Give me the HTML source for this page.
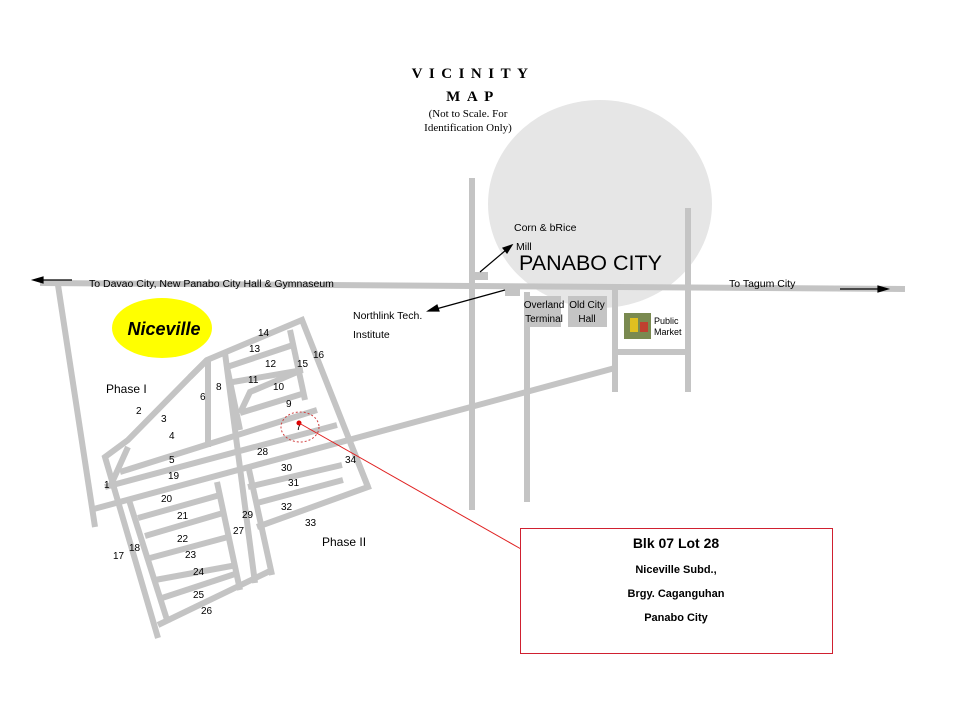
<!DOCTYPE html>
<html><head><meta charset="utf-8"><style>
body{margin:0;background:#fff}
svg{display:block}
text{font-family:"Liberation Sans",sans-serif;font-size:10px;fill:#000}
</style></head><body>
<svg width="960" height="720" viewBox="0 0 960 720">
<rect width="960" height="720" fill="#fff"/>
<ellipse cx="600" cy="204" rx="112" ry="104" fill="#e6e6e6"/>
<g stroke="#c4c4c4" stroke-width="6" fill="none" stroke-linecap="butt">
<line x1="40" y1="283" x2="905" y2="289"/>
<line x1="472" y1="178" x2="472" y2="510"/>
<line x1="527" y1="292" x2="527" y2="502"/>
<line x1="615" y1="288" x2="615" y2="392"/>
<line x1="688" y1="208" x2="688" y2="392"/>
<line x1="615" y1="352" x2="688" y2="352"/>
<line x1="58" y1="285" x2="95" y2="527"/>
<line x1="90" y1="510" x2="615" y2="368"/>
<polyline points="158,638 105,457 128,440 190,377 207,360 302,320 368,487 257,527"/>
<polyline points="110,487 128,447"/>
<line x1="105" y1="487" x2="337" y2="425"/>
<line x1="120" y1="472" x2="317" y2="410"/>
<line x1="208" y1="360" x2="208" y2="447"/>
<line x1="225" y1="353" x2="255" y2="583"/>
<line x1="207" y1="360" x2="190" y2="377"/>
<polyline points="240,413 250,392 302,370"/>
<line x1="227" y1="367" x2="240" y2="430"/>
<line x1="227" y1="367" x2="293" y2="345"/>
<line x1="227" y1="383" x2="303" y2="370"/>
<line x1="240" y1="413" x2="305" y2="393"/>
<line x1="290" y1="330" x2="305" y2="400"/>
<line x1="248" y1="465" x2="272" y2="575"/>
<line x1="248" y1="487" x2="342" y2="465"/>
<line x1="257" y1="503" x2="343" y2="480"/>
<line x1="350" y1="442" x2="368" y2="487"/>
<line x1="128" y1="497" x2="168" y2="623"/>
<line x1="217" y1="482" x2="240" y2="590"/>
<line x1="158" y1="625" x2="272" y2="570"/>
<line x1="138" y1="518" x2="220" y2="495"/>
<line x1="145" y1="536" x2="223" y2="513"/>
<line x1="150" y1="558" x2="228" y2="537"/>
<line x1="155" y1="580" x2="237" y2="565"/>
<line x1="162" y1="598" x2="238" y2="573"/>
</g>
<g fill="#c4c4c4">
<rect x="474" y="272" width="14" height="8"/>
<rect x="505" y="288" width="15" height="8"/>
<rect x="527" y="296" width="34" height="31"/>
<rect x="568" y="296" width="39" height="31"/>
</g>
<g stroke="#000" stroke-width="1.2" fill="#000">
<line x1="40" y1="280" x2="72" y2="280"/><polygon points="33,280 43,277 43,283"/>
<line x1="840" y1="289" x2="880" y2="289"/><polygon points="888,289 878,286 878,292"/>
<line x1="480" y1="272" x2="506" y2="250"/><polygon points="512,245 503,248 507,253"/>
<line x1="505" y1="290" x2="436" y2="309"/><polygon points="428,311 437,305 439,311"/>
</g>
<ellipse cx="162" cy="328" rx="50" ry="30" fill="#ffff00"/>
<text x="164" y="335" text-anchor="middle" style="font-size:18px;font-weight:bold;font-style:italic">Niceville</text>
<text x="473" y="78" text-anchor="middle" style="font-family:'Liberation Serif',serif;font-size:15px;font-weight:bold;letter-spacing:6.5px">VICINITY</text>
<text x="473" y="101" text-anchor="middle" style="font-family:'Liberation Serif',serif;font-size:15px;font-weight:bold;letter-spacing:6.5px">MAP</text>
<text x="468" y="117" text-anchor="middle" style="font-family:'Liberation Serif',serif;font-size:11px">(Not to Scale. For</text>
<text x="468" y="131" text-anchor="middle" style="font-family:'Liberation Serif',serif;font-size:11px">Identification Only)</text>
<text x="89" y="287" style="font-size:10.5px">To Davao City, New Panabo City Hall &amp; Gymnaseum</text>
<text x="729" y="287" style="font-size:10.5px">To Tagum City</text>
<text x="514" y="231" style="font-size:10.5px">Corn &amp; bRice</text>
<text x="516" y="250" style="font-size:10.5px">Mill</text>
<text x="519" y="270" style="font-size:21.5px">PANABO CITY</text>
<text x="353" y="319" style="font-size:10.5px">Northlink Tech.</text>
<text x="353" y="338" style="font-size:10.5px">Institute</text>
<text x="544" y="308" text-anchor="middle">Overland</text>
<text x="544" y="322" text-anchor="middle">Terminal</text>
<text x="587" y="308" text-anchor="middle">Old City</text>
<text x="587" y="322" text-anchor="middle">Hall</text>
<rect x="624" y="313" width="27" height="26" fill="#7a8a50"/>
<rect x="630" y="318" width="8" height="14" fill="#e0c020"/>
<rect x="640" y="322" width="8" height="10" fill="#c04030"/>
<text x="654" y="324" style="font-size:9px">Public</text>
<text x="654" y="335" style="font-size:9px">Market</text>
<text x="106" y="393" style="font-size:12px">Phase I</text>
<text x="322" y="546" style="font-size:12px">Phase II</text>
<g style="font-size:10px">
<text x="258" y="336">14</text><text x="249" y="352">13</text><text x="265" y="367">12</text><text x="313" y="358">16</text>
<text x="297" y="367">15</text><text x="248" y="383">11</text><text x="273" y="390">10</text><text x="286" y="407">9</text>
<text x="216" y="390">8</text><text x="200" y="400">6</text><text x="136" y="414">2</text><text x="161" y="422">3</text>
<text x="169" y="439">4</text><text x="296" y="430">7</text><text x="257" y="455">28</text><text x="169" y="463">5</text>
<text x="168" y="479">19</text><text x="104" y="488">1</text><text x="281" y="471">30</text><text x="288" y="486">31</text>
<text x="345" y="463">34</text><text x="161" y="502">20</text><text x="177" y="519">21</text><text x="242" y="518">29</text>
<text x="281" y="510">32</text><text x="305" y="526">33</text><text x="233" y="534">27</text><text x="177" y="542">22</text>
<text x="129" y="551">18</text><text x="113" y="559">17</text><text x="185" y="558">23</text><text x="193" y="575">24</text>
<text x="193" y="598">25</text><text x="201" y="614">26</text>
</g>
<ellipse cx="300" cy="427" rx="19" ry="15" fill="none" stroke="#d04040" stroke-width="1" stroke-dasharray="2,2"/>
<circle cx="299" cy="423" r="2.5" fill="#d00"/>
<line x1="299" y1="423" x2="521" y2="549" stroke="#e02020" stroke-width="1"/>
<rect x="520.5" y="528.5" width="312" height="125" fill="#fff" stroke="#d02030" stroke-width="1"/>
<text x="676" y="548" text-anchor="middle" style="font-size:14px;font-weight:bold">Blk 07  Lot 28</text>
<text x="676" y="573" text-anchor="middle" style="font-size:11px;font-weight:bold">Niceville Subd.,</text>
<text x="676" y="597" text-anchor="middle" style="font-size:11px;font-weight:bold">Brgy. Caganguhan</text>
<text x="676" y="621" text-anchor="middle" style="font-size:11px;font-weight:bold">Panabo City</text>
</svg>
</body></html>
